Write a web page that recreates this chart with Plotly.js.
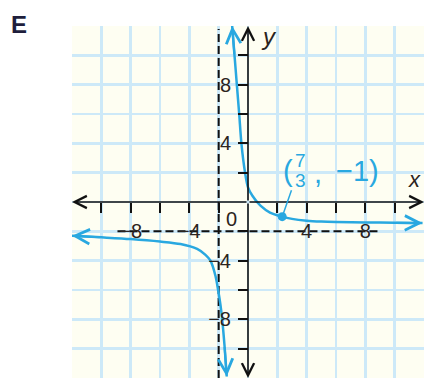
<!DOCTYPE html>
<html>
<head>
<meta charset="utf-8">
<script src="https://cdn.plot.ly/plotly-3.0.1.min.js"></script>
<style>html,body{margin:0;padding:0;background:#fff;}#chart{width:424px;height:379px;}</style>
</head>
<body>
<div id="chart"></div>
<script>
// ---- data ----
const leftX  = [-12, -10, -8, -6, -4.6, -3.47, -2.9, -2.56, -2.22, -2.03, -1.88, -1.76, -1.6, -1.45];
const leftY  = [-2.3, -2.41, -2.53, -2.7, -2.87, -3.2, -3.6, -4.0, -5.03, -6.05, -7, -8, -9.8, -11.9];
const rightX = [-1.08, -0.92, -0.76, -0.6, -0.45, -0.2, 0, 0.3, 0.85, 1.5, 2.33, 3, 4, 5, 6, 8, 10, 11.9];
const rightY = [12, 10, 8, 6, 4, 2, 1.0, 0.43, -0.25, -0.72, -1.0, -1.15, -1.27, -1.33, -1.36, -1.39, -1.42, -1.44];
const pointX = [7/3];
const pointY = [-1];
const vAsymX = [-2, -2];
const vAsymY = [-12, 11.8];
const hAsymX = [-8.9, 9.0];
const hAsymY = [-2, -2];
const axisExtent = [-12, 12];
const tickVals = [-10, -8, -6, -4, -2, 2, 4, 6, 8, 10];
const tickText = ['', '\u22128', '', '\u22124', '', '', '4', '', '8', ''];

const BLUE = '#29a8e0';
const GRID = '#cde9f8';
const INK = '#2b2420';
const FONT = 'Liberation Sans, Arial, sans-serif';

const traces = [
  {x: vAsymX, y: vAsymY, mode: 'lines', line: {color: '#111', width: 2, dash: '8px,4px'}, hoverinfo: 'skip'},
  {x: hAsymX, y: hAsymY, mode: 'lines', line: {color: '#111', width: 2, dash: '8px,4px'}, hoverinfo: 'skip'},
  {x: leftX, y: leftY, mode: 'lines', line: {color: BLUE, width: 2.5, shape: 'spline', smoothing: 0.8}, cliponaxis: false},
  {x: rightX, y: rightY, mode: 'lines', line: {color: BLUE, width: 2.5, shape: 'spline', smoothing: 0.8}, cliponaxis: false},
  {x: pointX, y: pointY, mode: 'markers', marker: {color: BLUE, size: 9}, cliponaxis: false}
];

function axisArrow(x, y, ax, ay, color, w, size) {
  return {x: x, y: y, ax: ax, ay: ay, xref: 'x', yref: 'y', axref: 'x', ayref: 'y',
          text: '', showarrow: true, arrowhead: 5, arrowsize: size, arrowwidth: w, arrowcolor: color};
}
const nL = leftX.length, nR = rightX.length;
const annotations = [
  axisArrow(axisExtent[1], 0, 0, 0, '#111', 1.6, 1.5),
  axisArrow(axisExtent[0], 0, 0, 0, '#111', 1.6, 1.5),
  axisArrow(0, axisExtent[1], 0, 0, '#111', 1.6, 1.5),
  axisArrow(0, axisExtent[0], 0, 0, '#111', 1.6, 1.5),
  axisArrow(leftX[0], leftY[0], leftX[1], leftY[1], BLUE, 2.2, 1.3),
  axisArrow(leftX[nL-1], leftY[nL-1], leftX[nL-2], leftY[nL-2], BLUE, 2.2, 1.3),
  axisArrow(rightX[0], rightY[0], rightX[1], rightY[1], BLUE, 2.2, 1.3),
  axisArrow(rightX[nR-1], rightY[nR-1], rightX[nR-2], rightY[nR-2], BLUE, 2.2, 1.3),
  {x: pointX[0], y: pointY[0], ax: 3.0, ay: 0.9, xref: 'x', yref: 'y', axref: 'x', ayref: 'y',
   text: '', showarrow: true, arrowhead: 0, arrowwidth: 1.5, arrowcolor: BLUE},
  {x: -1.1, y: -1.15, xref: 'x', yref: 'y', text: '0', showarrow: false, font: {family: FONT, size: 20, color: INK}},
  {x: 1.45, y: 11.3, xref: 'x', yref: 'y', text: '<i>y</i>', showarrow: false, font: {family: FONT, size: 24, color: INK}},
  {x: 11.35, y: 1.55, xref: 'x', yref: 'y', text: '<i>x</i>', showarrow: false, font: {family: FONT, size: 22, color: INK}},
  {x: 2.75, y: 2.1, xref: 'x', yref: 'y', text: '(', showarrow: false, font: {family: FONT, size: 29, color: BLUE}},
  {x: 3.6, y: 2.85, xref: 'x', yref: 'y', text: '7', showarrow: false, font: {family: FONT, size: 19, color: BLUE}},
  {x: 3.6, y: 1.45, xref: 'x', yref: 'y', text: '3', showarrow: false, font: {family: FONT, size: 19, color: BLUE}},
  {x: 4.75, y: 2.0, xref: 'x', yref: 'y', text: ',', showarrow: false, font: {family: FONT, size: 29, color: BLUE}},
  {x: 7.45, y: 2.1, xref: 'x', yref: 'y', text: '\u22121)', showarrow: false, font: {family: FONT, size: 29, color: BLUE}},
  {x: 0, y: 0, xref: 'paper', yref: 'paper', xanchor: 'center', yanchor: 'middle', text: '<b>E</b>', showarrow: false,
   font: {family: FONT, size: 24, color: '#1e1e3c'}}
];
const W = 424, H = 379, M = {l: 72, r: 0, t: 26, b: 1};
const pw = W - M.l - M.r, ph = H - M.t - M.b;
annotations[annotations.length - 1].x = (19 - M.l) / pw;
annotations[annotations.length - 1].y = (H - M.b - 25) / ph;

const axisCommon = {
  range: axisExtent.slice(), anchor: 'free', position: 0.5,
  showline: false, zeroline: false,
  tickmode: 'array', tickvals: tickVals, ticktext: tickText,
  ticks: 'outside', ticklen: 10, tickwidth: 2, tickcolor: '#111',
  showgrid: true, gridcolor: GRID, gridwidth: 2.5,
  minor: {tickmode: 'linear', tick0: 0, dtick: 2, showgrid: true, gridcolor: GRID, gridwidth: 2.5, ticks: ''},
  tickfont: {family: FONT, size: 20, color: INK},
  fixedrange: true
};

const layout = {
  width: W, height: H, margin: M,
  paper_bgcolor: '#ffffff', plot_bgcolor: '#fefef2',
  showlegend: false,
  xaxis: Object.assign({}, axisCommon, {ticklabelstandoff: 1}),
  yaxis: Object.assign({}, axisCommon, {ticklabelstandoff: 3}),
  annotations: annotations
};

Plotly.newPlot('chart', traces, layout, {displayModeBar: false, staticPlot: true});
</script>
</body>
</html>
